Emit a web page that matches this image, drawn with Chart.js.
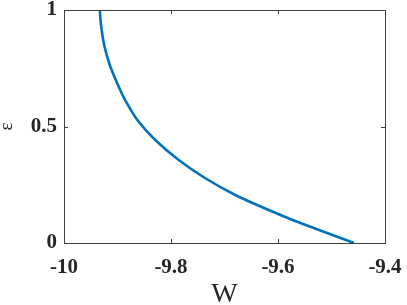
<!DOCTYPE html>
<html>
<head>
<meta charset="UTF-8">
<title>epsilon vs W</title>
<script src="https://cdn.jsdelivr.net/npm/chart.js"></script>
<style>
    body { margin: 0; background: #fff; }
    #wrap { width: 407px; height: 305px; }
</style>
</head>
<body>
<div id="wrap"><canvas id="chart" width="407" height="305"></canvas></div>
<script>
    // curve
    const wValues   = [-9.9331, -9.9308, -9.9249, -9.9144, -9.8991, -9.8857, -9.8629, -9.8294, -9.7855, -9.7366, -9.6798, -9.6261, -9.5725, -9.5233, -9.4579];
    const epsValues = [1.0, 0.9356, 0.8498, 0.7639, 0.6781, 0.6137, 0.5279, 0.4421, 0.3562, 0.2790, 0.2060, 0.1502, 0.0987, 0.0558, 0.0];
    const xTicks = [-10, -9.8, -9.6, -9.4];
    const yTicks = [0, 0.5, 1];

    const points = wValues.map((w, i) => ({ x: w, y: epsValues[i] }));

    // box around the axes with inward ticks, matlab style
    const boxPlugin = {
        id: 'box',
        afterDatasetsDraw(chart) {
            const ctx = chart.ctx;
            const a = chart.chartArea;
            const xs = chart.scales.x, ys = chart.scales.y;
            ctx.save();
            ctx.strokeStyle = '#404040';
            ctx.lineWidth = 1;
            ctx.strokeRect(Math.round(a.left) + 0.5, Math.round(a.top) + 0.5,
                Math.round(a.right - a.left), Math.round(a.bottom - a.top));
            ctx.beginPath();
            xTicks.forEach(v => {
                const px = Math.round(xs.getPixelForValue(v)) + 0.5;
                ctx.moveTo(px, a.bottom); ctx.lineTo(px, a.bottom - 4);
                ctx.moveTo(px, a.top); ctx.lineTo(px, a.top + 4);
            });
            yTicks.forEach(v => {
                const py = Math.round(ys.getPixelForValue(v)) + 0.5;
                ctx.moveTo(a.left, py); ctx.lineTo(a.left + 4, py);
                ctx.moveTo(a.right, py); ctx.lineTo(a.right - 4, py);
            });
            ctx.stroke();
            ctx.restore();
        }
    };

    new Chart(document.getElementById('chart'), {
        type: 'scatter',
        data: {
            datasets: [{
                data: points,
                showLine: true,
                borderColor: '#0072BD',
                borderWidth: 2.6,
                pointRadius: 0,
                tension: 0.35
            }]
        },
        options: {
            responsive: false,
            animation: false,
            layout: { padding: { top: 10, right: 22, left: 0, bottom: 0 } },
            plugins: { legend: { display: false }, tooltip: { enabled: false } },
            scales: {
                x: {
                    type: 'linear',
                    min: -10, max: -9.4,
                    afterBuildTicks: s => { s.ticks = xTicks.map(v => ({ value: v })); },
                    afterFit: s => { s.height = 62; s.paddingLeft = 0; s.paddingRight = 0; },
                    grid: { display: false, drawTicks: false },
                    border: { display: false },
                    ticks: {
                        color: '#262626',
                        padding: 12,
                        maxRotation: 0,
                        font: { family: 'Liberation Serif', size: 21, weight: 'bold' },
                        callback: v => String(v)
                    },
                    title: {
                        display: true,
                        text: 'W',
                        color: '#262626',
                        padding: { top: 0, bottom: -6 },
                        font: { family: 'Liberation Serif', size: 28 }
                    }
                },
                y: {
                    type: 'linear',
                    min: 0, max: 1,
                    afterBuildTicks: s => { s.ticks = yTicks.map(v => ({ value: v })); },
                    afterFit: s => { s.width = 64; s.paddingTop = 0; s.paddingBottom = 0; },
                    grid: { display: false, drawTicks: false },
                    border: { display: false },
                    ticks: {
                        color: '#262626',
                        padding: 7,
                        font: { family: 'Liberation Serif', size: 21, weight: 'bold' },
                        callback: v => String(v)
                    },
                    title: {
                        display: true,
                        text: 'ε',
                        color: '#262626',
                        padding: { top: -4, bottom: 0 },
                        font: { family: 'Liberation Serif', size: 19 }
                    }
                }
            }
        },
        plugins: [boxPlugin]
    });
</script>
</body>
</html>
